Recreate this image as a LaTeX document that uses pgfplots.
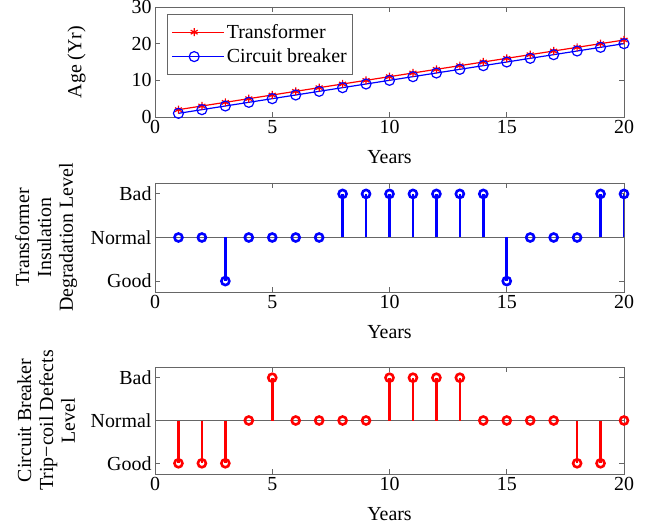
\documentclass[border=0pt]{standalone}
\usepackage{pgfplots}
\pgfplotsset{compat=1.18}
\usepackage{fontspec}
\setmainfont{Liberation Serif}

\newcommand{\figfont}{\fontsize{20}{22}\selectfont}

\pgfplotsset{
  matstyle/.style={
    scale only axis, width=469bp, anchor=south west,
    xmin=0, xmax=20, xtick={0,5,...,20},
    tick align=inside, major tick length=5bp,
    axis line style={black!60, line width=0.8bp},
    tick style={black!60, line width=0.8bp},
    tick label style={font=\figfont},
    label style={font=\figfont},
    /pgf/number format/assume math mode=true,
    xlabel=Years,
    xlabel style={at={(axis description cs:0.5,0)}, anchor=north, yshift=-30bp},
  },
  levels/.style={
    ymin=-1.25, ymax=1.25, ytick={-1,0,1},
    yticklabels={Good,Normal,Bad},
    ylabel style={align=center, at={(axis description cs:-0.232,0.5)}, anchor=center},
  },
  stem/.style={ycomb, line width=2.6bp, mark=o, mark size=4bp,
    mark options={line width=2.6bp, fill=white}},
}

\begin{document}
\begin{tikzpicture}
\path[use as bounding box] (0bp,0bp) rectangle (657bp,527bp);

% top: age
\begin{axis}[matstyle, at={(155bp,410bp)}, height=110bp,
  ymin=0, ymax=30, ytick={0,10,20,30},
  ylabel={Age (Yr)},
  ylabel style={at={(axis description cs:-0.167,0.5)}, anchor=center},
  legend style={at={(axis description cs:0.026,0.936)}, anchor=north west,
    draw=black!60, line width=0.8bp, font=\fontsize{20}{24}\selectfont, row sep=5bp,
    inner xsep=4bp, inner ysep=8bp},
  legend cell align=left,
  legend image code/.code={
    \path (0bp,0bp) -- (52bp,0bp);
    \draw[mark repeat=2, mark phase=2] plot coordinates {(0bp,0bp) (22bp,0bp) (44bp,0bp)};},
]
\addplot[red, line width=1.2bp, mark=asterisk, mark size=4bp] coordinates {
  (1,2) (2,3) (3,4) (4,5) (5,6) (6,7) (7,8) (8,9) (9,10) (10,11)
  (11,12) (12,13) (13,14) (14,15) (15,16) (16,17) (17,18) (18,19) (19,20) (20,21)
};
\addlegendentry{Transformer}
\addplot[blue, line width=1.2bp, mark=o, mark size=5bp] coordinates {
  (1,1) (2,2) (3,3) (4,4) (5,5) (6,6) (7,7) (8,8) (9,9) (10,10)
  (11,11) (12,12) (13,13) (14,14) (15,15) (16,16) (17,17) (18,18) (19,19) (20,20)
};
\addlegendentry{Circuit breaker}
\end{axis}

% middle: transformer insulation
\begin{axis}[matstyle, levels, at={(155bp,235bp)}, height=109bp,
  ylabel={Transformer\\Insulation\\Degradation Level},
]
\addplot[black!60, line width=0.8bp, forget plot] coordinates {(0,0) (20,0)};
\addplot[blue, stem] coordinates {
  (1,0) (2,0) (3,-1) (4,0) (5,0) (6,0) (7,0) (8,1) (9,1) (10,1)
  (11,1) (12,1) (13,1) (14,1) (15,-1) (16,0) (17,0) (18,0) (19,1) (20,1)
};
\end{axis}

% bottom: circuit breaker trip-coil
\begin{axis}[matstyle, levels, at={(155bp,53bp)}, height=107bp,
  ylabel={Circuit Breaker\\Trip−coil Defects\\Level},
]
\addplot[black!60, line width=0.8bp, forget plot] coordinates {(0,0) (20,0)};
\addplot[red, stem] coordinates {
  (1,-1) (2,-1) (3,-1) (4,0) (5,1) (6,0) (7,0) (8,0) (9,0) (10,1)
  (11,1) (12,1) (13,1) (14,0) (15,0) (16,0) (17,0) (18,-1) (19,-1) (20,0)
};
\end{axis}
\end{tikzpicture}
\end{document}
